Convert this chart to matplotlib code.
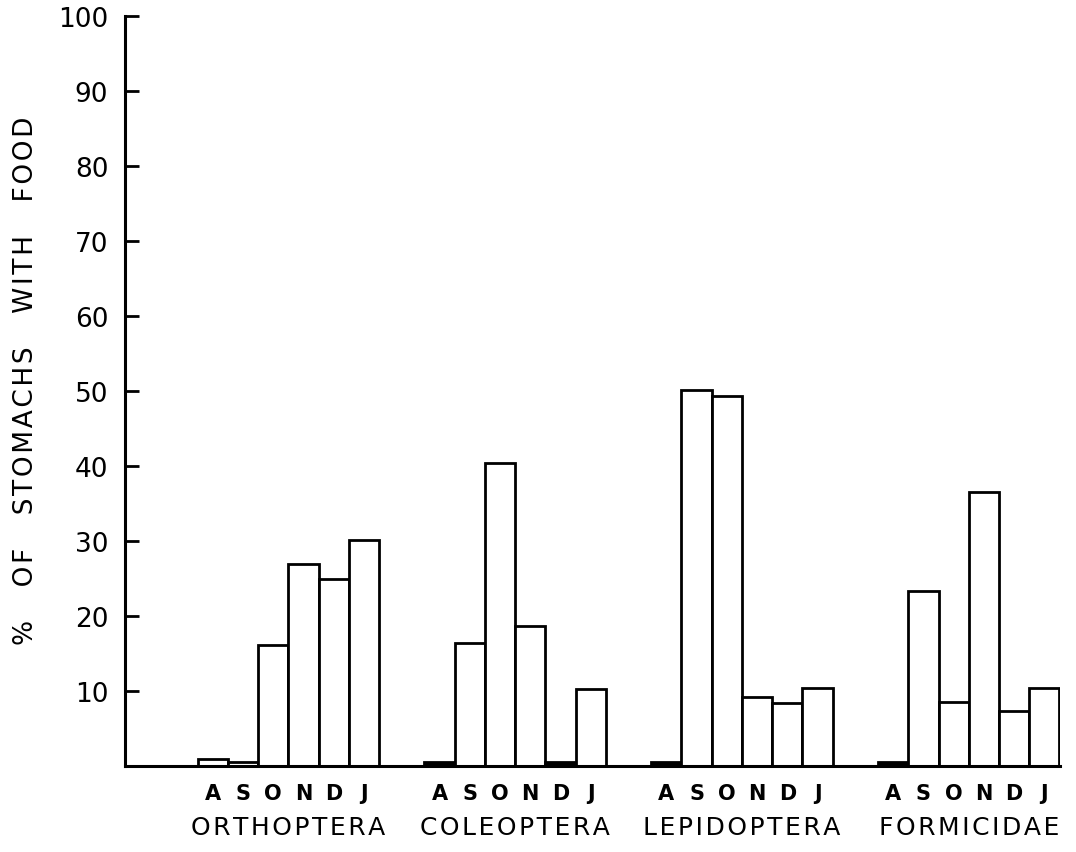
import numpy as np
import matplotlib.pyplot as plt

# percent of stomachs with food, by month (Aug-Jan)
months = ['A', 'S', 'O', 'N', 'D', 'J']
categories = ['ORTHOPTERA', 'COLEOPTERA', 'LEPIDOPTERA', 'FORMICIDAE']
orthoptera = [1.0, 0.5, 16.1, 26.9, 24.9, 30.1]
coleoptera = [0.6, 16.4, 40.4, 18.7, 0.6, 10.3]
lepidoptera = [0.6, 50.1, 49.4, 9.2, 8.4, 10.4]
formicidae = [0.6, 23.3, 8.5, 36.5, 7.4, 10.4]
yticks = [10, 20, 30, 40, 50, 60, 70, 80, 90, 100]

series = [orthoptera, coleoptera, lepidoptera, formicidae]
# bars drawn solid black in the original (group, month index)
solid = [(1, 0), (1, 4), (2, 0), (3, 0)]


def spaced(s, gap='\u200a', wordgap='   '):
    # poor man's letter spacing
    words = s.split(' ')
    return wordgap.join(gap.join(w) for w in words)


plt.rcParams['font.family'] = 'DejaVu Sans'
fig = plt.figure(figsize=(10.76, 8.53), dpi=100)
ax = fig.add_axes([0.1162, 0.1008, 0.8690, 0.8792])

stride = len(months) + 1.5
centers = []
labels = []
for g, vals in enumerate(series):
    x = g * stride + np.arange(len(months)) + 0.5
    colors = ['black' if (g, i) in solid else 'white' for i in range(len(months))]
    ax.bar(x, vals, width=1.0, color=colors, edgecolor='black', linewidth=2.0)
    centers.extend(x)
    labels.extend(months)
    ax.text(x.mean(), -0.081, spaced(categories[g]),
            transform=ax.get_xaxis_transform(),
            ha='center', va='center', fontsize=18)

ax.set_xlim(-2.4, 3 * stride + 6.02)
ax.set_ylim(0, 100)
ax.set_yticks(yticks)
ax.set_yticklabels([str(t) for t in yticks], fontsize=19)
ax.set_xticks(centers)
ax.set_xticklabels(labels, fontsize=15, fontweight='bold')

ax.tick_params(axis='y', direction='in', length=10, width=2.0, pad=12)
ax.tick_params(axis='x', length=0, pad=12)

for s in ['top', 'right']:
    ax.spines[s].set_visible(False)
for s in ['left', 'bottom']:
    ax.spines[s].set_linewidth(2.2)

fig.text(0.024, 0.554, spaced('% OF STOMACHS WITH FOOD', wordgap='    '), rotation=90,
         ha='center', va='center', fontsize=19)

plt.savefig('out.png', dpi=100)
